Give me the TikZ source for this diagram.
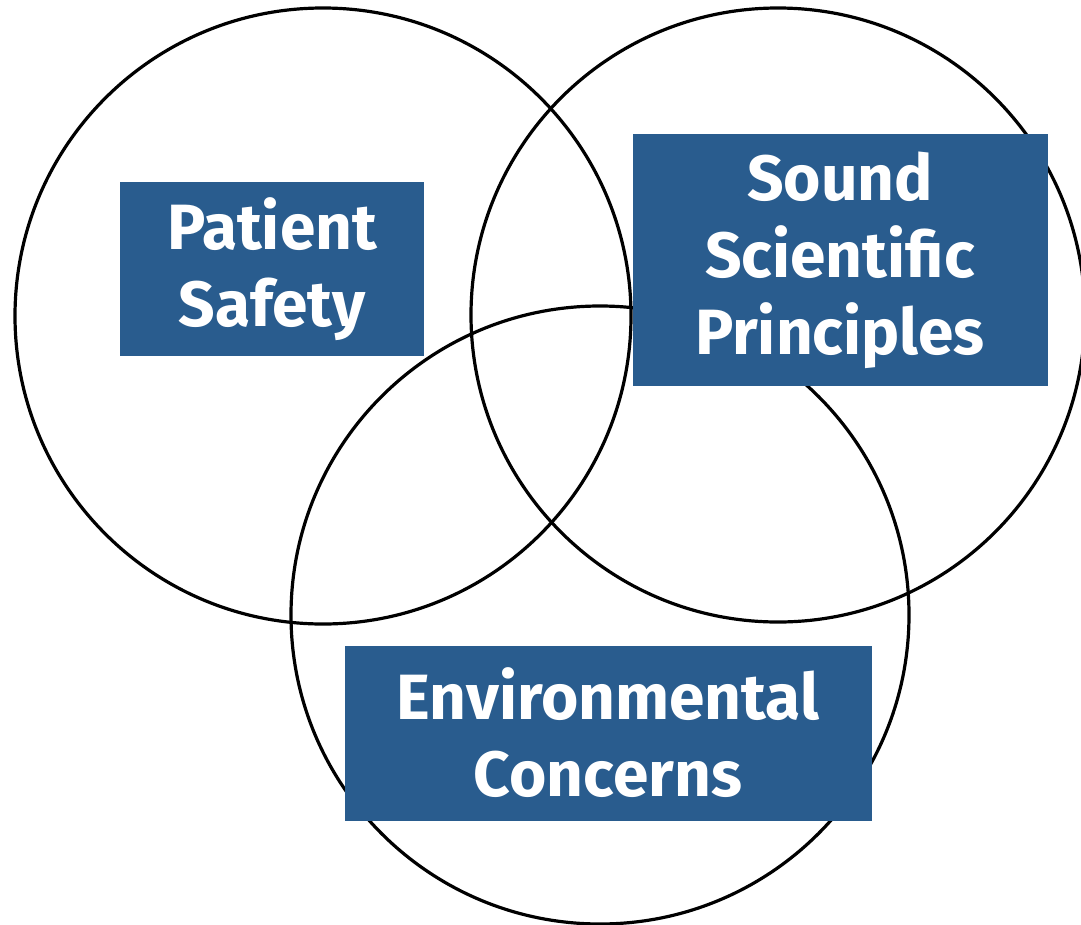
\documentclass[tikz,border=0pt]{standalone}
\usepackage{fontspec}
\setmainfont{Fira Sans}
\usetikzlibrary{positioning}
\definecolor{boxblue}{RGB}{41,92,142}
\tikzstyle{ring}=[draw=black, line width=3.2pt]
\tikzstyle{topic}=[fill=boxblue, text=white, align=center, inner sep=0pt, font=\fontsize{64}{77}\selectfont\bfseries]

\begin{document}
\begin{tikzpicture}[x=1pt, y=-1pt]
\useasboundingbox (0,0) rectangle (1081,924);
\draw[ring] (323,316) circle (308);
\draw[ring] (778,315) circle (307);
\draw[ring] (600,615) circle (309);
\node[topic, minimum width=304pt, minimum height=174pt] (safety) at (272,269) {Patient\\Safety};
\node[topic, minimum width=415pt, minimum height=252pt] (science) at (840,260) {Sound\\Scientific\\Principles};
\node[topic, minimum width=527pt, minimum height=175pt] (environment) at (608,733) {Environmental\\Concerns};
\end{tikzpicture}
\end{document}
